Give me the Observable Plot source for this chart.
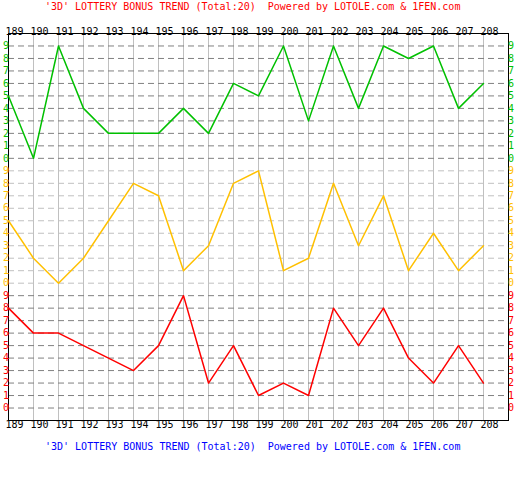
<!DOCTYPE html>
<html><head><meta charset="utf-8">
<script src="https://cdn.jsdelivr.net/npm/d3@7"></script>
<script src="https://cdn.jsdelivr.net/npm/@observablehq/plot@0.6"></script>
<style>
body{margin:0;background:#fff;font-family:"DejaVu Sans Mono",monospace;}
.title{font-size:10px;height:14px;line-height:14px;white-space:pre;padding-left:45px;}
#chart svg{display:block;}
</style></head><body>
<div id="top" class="title" style="color:#ff0000"></div>
<div id="chart"></div>
<div id="bottom" class="title" style="color:#0000ff"></div>
<script>
const titleText = "'3D' LOTTERY BONUS TREND (Total:20)  Powered by LOTOLE.com & 1FEN.com";
const periods = [189,190,191,192,193,194,195,196,197,198,199,200,201,202,203,204,205,206,207,208];
const green  = [5,0,9,4,2,2,2,4,2,6,5,9,3,9,4,9,8,9,4,6];
const yellow = [5,2,0,2,5,8,7,1,3,8,9,1,2,8,3,7,1,4,1,3];
const red    = [8,6,6,5,4,3,5,9,2,5,1,2,1,8,5,8,4,2,5,2];
const digits = [0,1,2,3,4,5,6,7,8,9];
const seriesNames = ["green","yellow","red"];
const seriesData = {green, yellow, red};

const lineColor = {green:"#00c000", yellow:"#ffc000", red:"#ff0000"};
const gridColor = {green:"#808080", yellow:"#c0c0c0", red:"#808080"};

document.getElementById("top").textContent = titleText;
document.getElementById("bottom").textContent = titleText;

const rows = seriesNames.flatMap((s, b) => seriesData[s].map((v, i) => ({period: periods[i], value: v, series: s, row: (2 - b) * 10 + v})));
const gridRows = seriesNames.flatMap((s, b) => digits.map(d => ({digit: d, series: s, row: (2 - b) * 10 + d})));

const chart = Plot.plot({
  width: 518, height: 426,
  marginLeft: 8, marginRight: 10, marginTop: 19, marginBottom: 20,
  x: {domain: [189, 209], axis: null},
  y: {domain: [-1, 30], axis: null},
  color: {type: "identity"},
  style: {fontFamily: "'DejaVu Sans Mono', monospace", fontSize: "10px", background: "#fff"},
  marks: [
    Plot.ruleX(periods, {x: d => d, stroke: "#c0c0c0"}),
    Plot.ruleY(gridRows, {y: "row", stroke: d => gridColor[d.series], strokeDasharray: "6,4"}),
    Plot.frame({stroke: "#000"}),
    Plot.line(rows, {x: "period", y: "row", z: "series", stroke: d => lineColor[d.series], strokeWidth: 1.5}),
    Plot.text(periods, {x: d => d, text: d => String(d), frameAnchor: "top", dy: -6, dx: -3, textAnchor: "start", fill: "#000"}),
    Plot.text(periods, {x: d => d, text: d => String(d), frameAnchor: "bottom", dy: 7, dx: -3, textAnchor: "start", fill: "#000"}),
    Plot.text(gridRows, {y: "row", text: d => String(d.digit), frameAnchor: "left", dx: -5.5, fill: d => lineColor[d.series]}),
    Plot.text(gridRows, {y: "row", text: d => String(d.digit), frameAnchor: "right", dx: 5.5, fill: d => lineColor[d.series]})
  ]
});
document.getElementById("chart").appendChild(chart);
</script>
</body></html>
